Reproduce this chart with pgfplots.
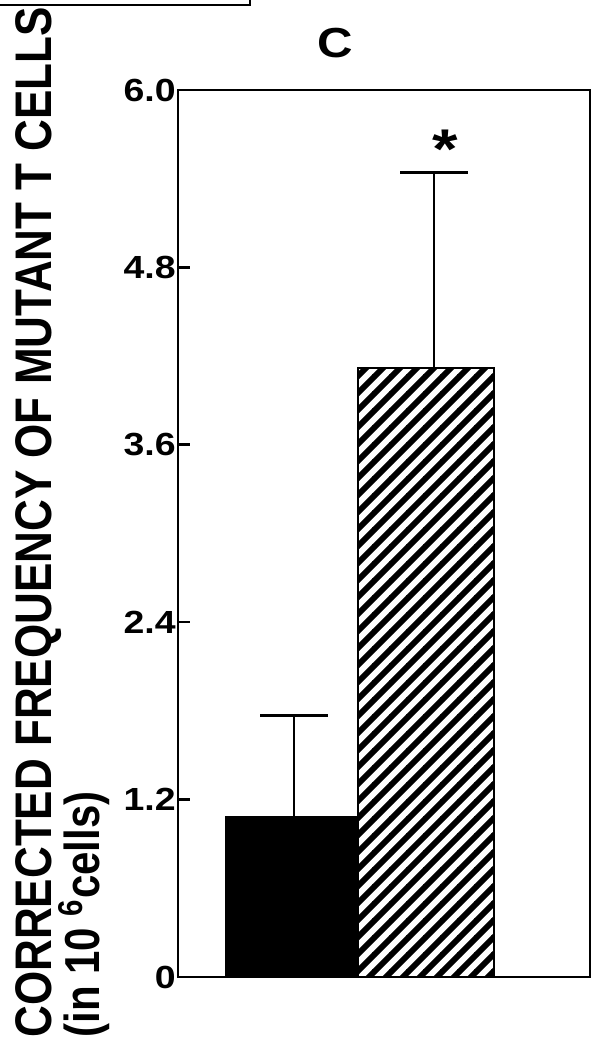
\documentclass[border=0pt]{standalone}
\usepackage{pgfplots}
\pgfplotsset{compat=1.18}
\usepackage{fontspec}
\setmainfont{Liberation Sans}
\usetikzlibrary{patterns}
\pgfdeclarepatternformonly{hatchC}{\pgfqpoint{-1pt}{-1pt}}{\pgfqpoint{9.5pt}{9.5pt}}{\pgfqpoint{8.5pt}{8.5pt}}{%
  \pgfsetlinewidth{3pt}%
  \pgfpathmoveto{\pgfqpoint{-1pt}{-1pt}}%
  \pgfpathlineto{\pgfqpoint{9.5pt}{9.5pt}}%
  \pgfusepath{stroke}%
}
\newcommand{\tl}[1]{\scalebox{1.17}[1]{\fontsize{16}{16}\selectfont\bfseries #1}}
\begin{document}
\begin{tikzpicture}
\useasboundingbox (-89pt,-31.5pt) rectangle (208pt,488.5pt);
\begin{axis}[
  at={(0,0)}, anchor=south west,
  width=206pt, height=443.5pt, scale only axis,
  xmin=0, xmax=206, ymin=0, ymax=6,
  xtick=\empty,
  ytick={0,1.2,2.4,3.6,4.8,6},
  yticklabels={\tl{0},\tl{1.2},\tl{2.4},\tl{3.6},\tl{4.8},\tl{6.0}},
  ytick pos=left,
  tick align=inside,
  major tick length=6pt,
  axis line style={line width=1.3pt},
  every tick/.style={line width=1.3pt, black},
  yticklabel style={inner sep=0pt, xshift=-1pt},
  clip=false,
]
\addplot[ybar, bar width=65, bar shift=0pt, fill=black, draw=black, line width=1.2pt]
  coordinates {(56.5,1.08)};
\addplot[ybar, bar width=68, bar shift=0pt, pattern=hatchC, draw=black, line width=1.2pt]
  coordinates {(124,4.12)};
\addplot[draw=none, mark=none,
  error bars/.cd, y dir=plus, y explicit,
  error bar style={draw=black, line width=1.3pt},
  error mark options={rotate=90, mark size=17pt, line width=1.3pt, draw=black}]
  coordinates {(58,1.08) +- (0,0.69) (128,4.12) +- (0,1.32)};
\node[anchor=base, inner sep=0pt] at (axis cs:133.5,5.47)
  {\scalebox{1.17}[1]{\fontsize{28}{28}\selectfont\bfseries *}};
\end{axis}
\node[inner sep=0pt] at (78.5pt,467pt) {\scalebox{1.17}[1]{\fontsize{21}{21}\selectfont\bfseries C}};
\node[rotate=90, anchor=base west, inner sep=0pt] at (-63pt,-30.5pt)
  {\scalebox{1}[1.17]{\fontsize{22}{22}\selectfont\bfseries CORRECTED FREQUENCY OF MUTANT T CELLS}};
\node[rotate=90, anchor=base west, inner sep=0pt] at (-39pt,-30.5pt)
  {\scalebox{1}[1.17]{\fontsize{21}{21}\selectfont\bfseries (in 10 \textsuperscript{6}cells)}};
\draw[line width=1.2pt] (-89pt,486pt) -- (36pt,486pt) -- (36pt,488.5pt);
\end{tikzpicture}
\end{document}
